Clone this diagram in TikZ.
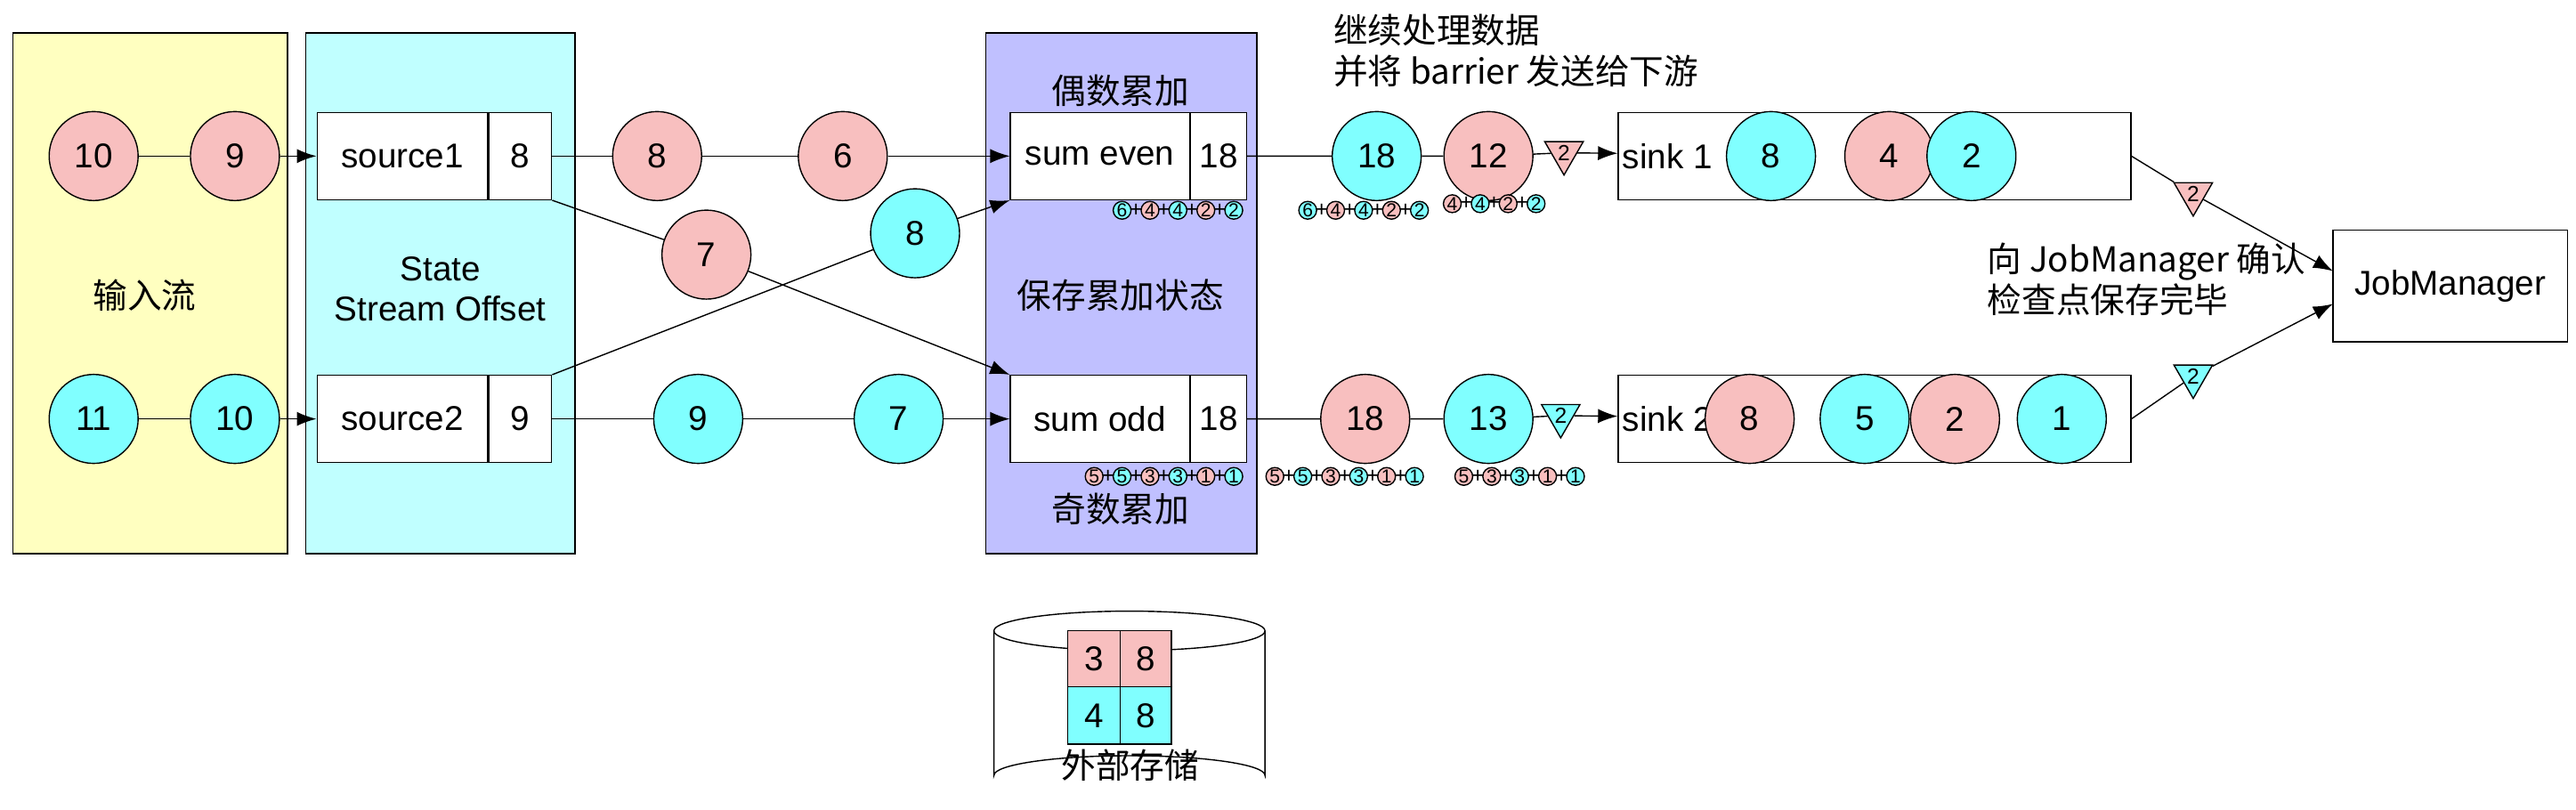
\documentclass[tikz,border=0pt]{standalone}
\usepackage{fontspec}
\setmainfont{Liberation Sans}
\newfontfamily\cjk{Noto Sans CJK SC}
\usetikzlibrary{positioning,shapes.geometric,arrows.meta,calc}
\definecolor{pk}{HTML}{F8BFBF}
\definecolor{cy}{HTML}{80FFFF}
\definecolor{ylw}{HTML}{FFFFC0}
\definecolor{lcy}{HTML}{C0FFFF}
\definecolor{pur}{HTML}{C0C0FF}
\tikzset{
  big/.style={circle,draw,minimum size=1cm,inner sep=0pt,font=\fontsize{11}{13}\selectfont},
  pkc/.style={big,fill=pk},
  cyc/.style={big,fill=cy},
  tok/.style={circle,draw,minimum size=0.2cm,inner sep=0pt,font=\fontsize{6}{6}\selectfont},
  box/.style={draw,fill=white,minimum height=0.98cm,inner sep=2pt,font=\fontsize{11}{13}\selectfont},
  barrier/.style={regular polygon,regular polygon sides=3,shape border rotate=180,draw,
    inner sep=0pt,minimum size=0.5cm,font=\fontsize{7}{7}\selectfont},
  arr/.style={-{Latex[length=2.2mm,width=1.6mm]}},
  lbl/.style={font=\fontsize{11}{13}\selectfont\cjk,align=left}
}
% token chain: start point, name prefix, list of value/colour
\newcommand\tokseq[3]{%
  \foreach \v/\c [count=\i] in {#3} {
    \node[tok,fill=\c] (#2\i) at ($(#1)+(\i*17-17,0)$) {\v};
    \ifnum\i>1 \node[inner sep=0pt,font=\fontsize{7}{7}\selectfont] at ($(#2\i)+(-8.5,0)$) {+};\fi
  }}
\begin{document}
\begin{tikzpicture}[x=0.01846cm,y=-0.01846cm]
\useasboundingbox (0,0) rectangle (1568,493);

% background panels
\draw[fill=ylw] (8,20) rectangle (175,337);
\draw[fill=lcy] (186,20) rectangle (350,337);
\draw[fill=pur] (600,20) rectangle (765,337);
\node[lbl] at (88,180) {输入流};
\node[align=center,font=\fontsize{11}{13}\selectfont] at (268,176) {State\\Stream Offset};
\node[lbl] at (682,180) {保存累加状态};
\node[lbl] at (682,55) {偶数累加};
\node[lbl] at (682,310) {奇数累加};

% input
\node[pkc] (i10) at (57,95) {10};
\node[pkc] (i9) at (143,95) {9};
\node[cyc] (i11) at (57,255) {11};
\node[cyc] (i10b) at (143,255) {10};

% sources
\node[box,minimum width=104*0.01846cm] (s1) at (245,95) {source1};
\node[box,minimum width=38*0.01846cm,right=0pt of s1] (s1v) {8};
\node[box,minimum width=104*0.01846cm] (s2) at (245,255) {source2};
\node[box,minimum width=38*0.01846cm,right=0pt of s2] (s2v) {9};

% sums
\node[box,minimum width=109*0.01846cm] (se) at (669.5,95) {sum even};
\node[box,minimum width=34*0.01846cm,right=0pt of se] (sev) {18};
\node[box,minimum width=109*0.01846cm] (so) at (669.5,255) {sum odd};
\node[box,minimum width=34*0.01846cm,right=0pt of so] (sov) {18};

% in flight
\node[pkc] (a8) at (400,95) {8};
\node[pkc] (a6) at (513,95) {6};
\node[pkc] (a7) at (430,155) {7};
\node[cyc] (b8) at (557,142) {8};
\node[cyc] (b9) at (425,255) {9};
\node[cyc] (b7) at (547,255) {7};

\draw (i10) -- (i9);
\draw[arr] (i9) -- (s1);
\draw (i11) -- (i10b);
\draw[arr] (i10b) -- (s2);
\draw (s1v) -- (a8) -- (a6);
\draw[arr] (a6) -- (se);
\draw (s2v) -- (b9) -- (b7);
\draw[arr] (b7) -- (so);
\draw (s1v.south east) -- (a7);
\draw[arr] (a7) -- (so.north west);
\draw (s2v.north east) -- (b8);
\draw[arr] (b8) -- (se.south west);

% after sums
\node[align=left,font=\fontsize{11}{13}\selectfont\cjk,anchor=north west] at (805,2) {继续处理数据\\并将 barrier 发送给下游};
\node[cyc] (c18) at (838,95) {18};
\node[pkc] (c12) at (906,95) {12};
\node[barrier,fill=pk] (t1) at (952,93) {2};
\node[pkc] (d18) at (831,255) {18};
\node[cyc] (d13) at (906,255) {13};
\node[barrier,fill=cy] (t2) at (950,253) {2};

% sinks
\node[box,minimum width=312*0.01846cm] (k1) at (1141,95) {};
\node[box,minimum width=312*0.01846cm] (k2) at (1141,255) {};
\node[font=\fontsize{11}{13}\selectfont] at (1015,95) {sink 1};
\node[font=\fontsize{11}{13}\selectfont] at (1015,255) {sink 2};
\node[cyc] (k1a) at (1078,95) {8};
\node[pkc] (k1b) at (1150,95) {4};
\node[cyc] (k1c) at (1200,95) {2};
\node[pkc] (k2a) at (1065,255) {8};
\node[cyc] (k2b) at (1135,255) {5};
\node[pkc] (k2c) at (1190,255) {2};
\node[cyc] (k2d) at (1255,255) {1};

\draw (sev) -- (c18) -- (c12) -- (t1);
\draw[arr] (t1) -- (k1);
\draw (sov) -- (d18) -- (d13) -- (t2);
\draw[arr] (t2) -- (k2);

% job manager
\node[box,minimum width=143*0.01846cm,minimum height=68*0.01846cm] (jm) at (1491.5,174) {JobManager};
\coordinate (jm1) at (1420,165);
\coordinate (jm2) at (1420,185);
\node[barrier,fill=pk] (tj1) at (1335,118) {2};
\node[barrier,fill=cy] (tj2) at (1335,229) {2};
\draw (k1.east) -- (tj1);
\draw[arr] (tj1) -- (jm1);
\draw (k2.east) -- (tj2);
\draw[arr] (tj2) -- (jm2);
\node[lbl,anchor=west] at (1203,170) {向 JobManager 确认\\检查点保存完毕};

% token chains
\tokseq{683,128}{p}{6/cy,4/pk,4/cy,2/pk,2/cy}
\tokseq{796,128}{q}{6/cy,4/pk,4/cy,2/pk,2/cy}
\tokseq{884,124}{r}{4/pk,4/cy,2/pk,2/cy}
\tokseq{666,290}{u}{5/pk,5/cy,3/pk,3/cy,1/pk,1/cy}
\tokseq{776,290}{v}{5/pk,5/cy,3/pk,3/cy,1/pk,1/cy}
\tokseq{891,290}{w}{5/pk,3/pk,3/cy,1/pk,1/cy}

% external storage
\draw[fill=white] (605,384) -- (605,472) arc[start angle=180,end angle=360,x radius=82.5,y radius=12] -- (770,384);
\draw[fill=white] (687.5,384) ellipse[x radius=82.5,y radius=12];
\draw[fill=pk] (650,384) rectangle (682,418) (682,384) rectangle (713,418);
\draw[fill=cy] (650,418) rectangle (682,453) (682,418) rectangle (713,453);
\node[font=\fontsize{11}{13}\selectfont] at (666,401) {3};
\node[font=\fontsize{11}{13}\selectfont] at (697.5,401) {8};
\node[font=\fontsize{11}{13}\selectfont] at (666,435.5) {4};
\node[font=\fontsize{11}{13}\selectfont] at (697.5,435.5) {8};
\node[lbl] at (688,466) {外部存储};
\end{tikzpicture}
\end{document}
